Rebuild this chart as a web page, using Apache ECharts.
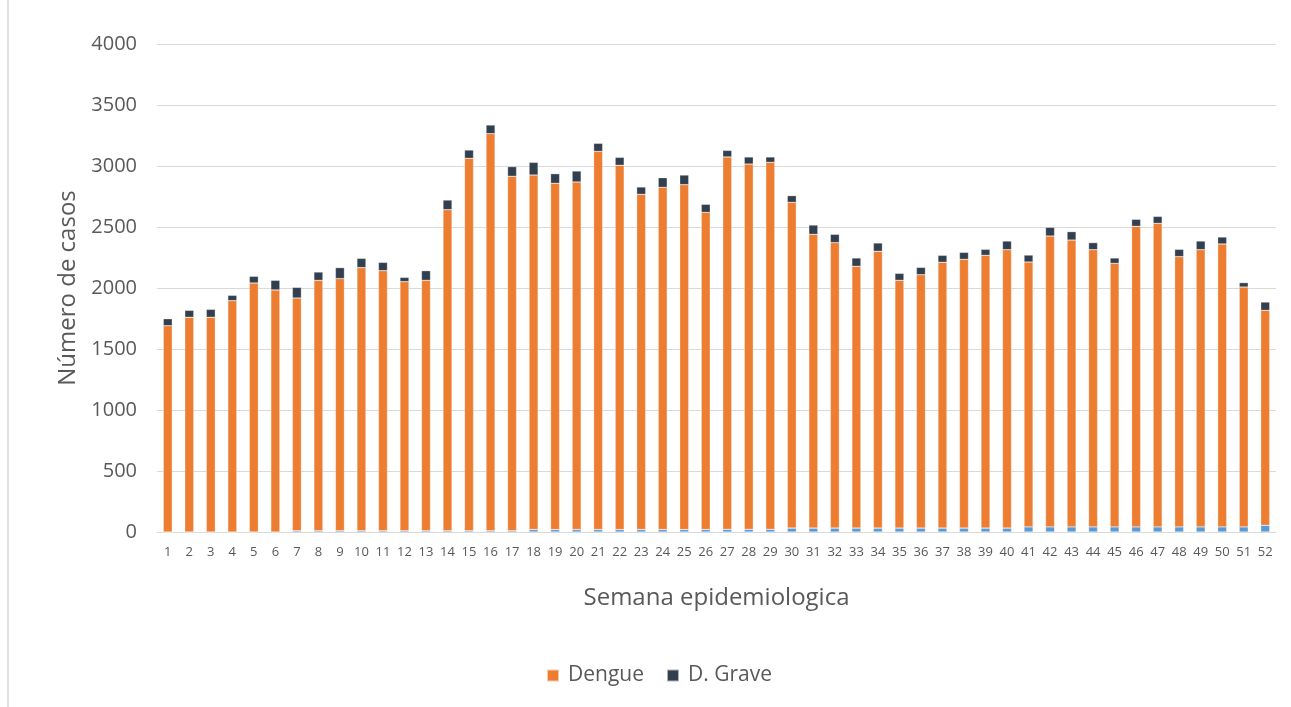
<!DOCTYPE html>
<html>
<head>
<meta charset="utf-8">
<script src="https://cdn.jsdelivr.net/npm/echarts@6/dist/echarts.min.js"></script>
<style>
html,body{margin:0;padding:0;background:#fff;}
#chart{width:1291px;height:707px;}
</style>
</head>
<body>
<div id="chart"></div>
<script>
const weeks = Array.from({length: 52}, (_, i) => String(i + 1));
const otros = [0,0,0,0,0,0,10,10,10,10,10,10,10,10,10,10,10,20,20,20,20,20,20,20,20,20,22,22,22,32,32,32,32,32,32,32,32,32,32,32,42,42,42,42,42,42,42,42,42,42,42,55];
const dengue = [1691,1760,1760,1896,2041,1984,1908,2053,2067,2157,2132,2042,2053,2632,3053,3255,2906,2906,2838,2849,3100,2986,2748,2805,2827,2600,3052,2994,3008,2670,2408,2340,2146,2269,2031,2077,2179,2203,2236,2282,2171,2384,2351,2272,2160,2464,2488,2215,2272,2319,1966,1762];
const grave = [57,57,65,44,55,79,87,68,90,76,68,35,79,79,68,71,79,104,79,90,66,65,60,79,79,66,54,58,44,55,76,68,68,68,57,60,57,57,49,71,57,71,69,58,44,57,57,60,71,57,36,68];
const yTicks = [0,500,1000,1500,2000,2500,3000,3500,4000];

const font = '"Open Sans", "Noto Sans", sans-serif';
const chart = echarts.init(document.getElementById('chart'));
const barStyle = {borderColor: 'rgba(255,255,255,0.6)', borderWidth: 0.5};
chart.setOption({
  animation: false,
  backgroundColor: '#fff',
  graphic: [{type: 'line', shape: {x1: 8, y1: 0, x2: 8, y2: 707}, style: {stroke: '#d9d9d9', lineWidth: 1.5}}],
  grid: {left: 157, right: 15, top: 44, bottom: 175},
  legend: {
    data: ['Dengue', 'D. Grave'],
    bottom: 16, left: 541,
    itemWidth: 12, itemHeight: 12, itemGap: 22,
    icon: 'rect',
    textStyle: {fontFamily: font, fontSize: 21, color: '#595959', padding: [0, 0, 0, 4]}
  },
  xAxis: {
    type: 'category', data: weeks,
    name: 'Semana epidemiologica', nameLocation: 'middle', nameGap: 54,
    nameTextStyle: {fontFamily: font, fontSize: 24, color: '#595959'},
    axisLine: {lineStyle: {color: '#d9d9d9', width: 1}},
    axisTick: {show: false},
    axisLabel: {interval: 0, fontFamily: font, fontSize: 13, color: '#595959', margin: 14}
  },
  yAxis: {
    type: 'value', min: 0, max: 4000, interval: 500,
    name: 'Número de casos', nameLocation: 'middle', nameGap: 76,
    nameTextStyle: {fontFamily: font, fontSize: 24, color: '#595959'},
    axisLine: {show: false}, axisTick: {show: false},
    axisLabel: {fontFamily: font, fontSize: 20, color: '#595959', margin: 20,
      formatter: v => yTicks.includes(v) ? String(v) : ''},
    splitLine: {lineStyle: {color: '#d9d9d9', width: 1.2}}
  },
  series: [
    {name: 'Otros', type: 'bar', stack: 't', data: otros, barWidth: 9, itemStyle: Object.assign({color: '#5b9bd5'}, barStyle)},
    {name: 'Dengue', type: 'bar', stack: 't', data: dengue, barWidth: 9, itemStyle: Object.assign({color: '#ed7d31'}, barStyle)},
    {name: 'D. Grave', type: 'bar', stack: 't', data: grave, barWidth: 9, itemStyle: Object.assign({color: '#323f4f'}, barStyle)}
  ]
});
</script>
</body>
</html>
